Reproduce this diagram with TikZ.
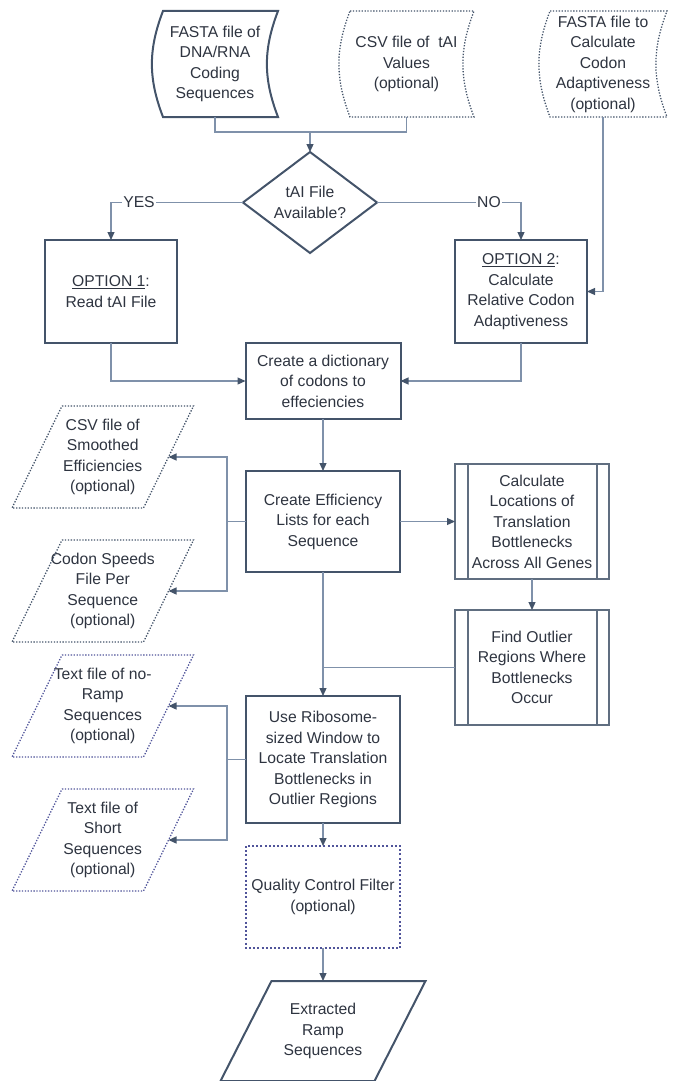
\documentclass[tikz,border=0pt]{standalone}
\usepackage{fontspec}
\setmainfont{Liberation Sans}
\usetikzlibrary{arrows.meta,calc,shapes.geometric}
\definecolor{boxc}{HTML}{44546A}
\definecolor{linec}{HTML}{7F91AA}
\definecolor{textc}{HTML}{2E3440}
\definecolor{purc}{HTML}{50549A}
\begin{document}
\begin{tikzpicture}[x=1pt,y=-1pt,
  every node/.style={font=\fontsize{15.7}{20.5}\selectfont, text=textc, align=center, inner sep=0pt, outer sep=0pt},
  proc/.style={rectangle, draw=boxc, line width=2pt},
  subp/.style={rectangle, draw=boxc!85, line width=1.3pt},
  ghost/.style={rectangle, draw=none},
  thickline/.style={draw=boxc, line width=2pt},
  dotb/.style={draw=boxc, line width=1.3pt, dash pattern=on 1.3pt off 1.6pt},
  dotp/.style={draw=purc, line width=1.3pt, dash pattern=on 1.3pt off 1.6pt},
  conn/.style={draw=linec, line width=1.2pt},
  arr/.style={draw=linec, line width=1.2pt, -{Triangle[length=8pt,width=7pt,color=boxc]}},
  lbl/.style={fill=white, inner sep=1pt}]
\useasboundingbox (0,0) rectangle (674,1081);

% ---- stored data inputs ----
\node[ghost, minimum width=126pt, minimum height=106pt] (s1) at (215,64) {FASTA file of\\DNA/RNA\\Coding\\Sequences};
\draw[thickline] ($(s1.north west)+(11,0)$) -- (s1.north east) to[bend right=21] (s1.south east)
  -- ($(s1.south west)+(11,0)$) to[bend left=21] ($(s1.north west)+(11,0)$) -- cycle;

\node[ghost, minimum width=135pt, minimum height=106pt] (s2) at (406.5,64) {CSV file of \ tAI\\Values\\(optional)};
\draw[dotb] ($(s2.north west)+(11,0)$) -- (s2.north east) to[bend right=21] (s2.south east)
  -- ($(s2.south west)+(11,0)$) to[bend left=21] ($(s2.north west)+(11,0)$) -- cycle;

\node[ghost, minimum width=128pt, minimum height=106pt] (s3) at (603,64) {FASTA file to\\Calculate\\Codon\\Adaptiveness\\(optional)};
\draw[dotb] ($(s3.north west)+(11,0)$) -- (s3.north east) to[bend right=21] (s3.south east)
  -- ($(s3.south west)+(11,0)$) to[bend left=21] ($(s3.north west)+(11,0)$) -- cycle;

% ---- decision ----
\node[diamond, draw=boxc, line width=2pt, aspect=1.33, minimum width=134pt, minimum height=101pt] (dia) at (310,202.5) {tAI File\\Available?};

% ---- option boxes ----
\node[proc, minimum width=132pt, minimum height=103pt] (o1) at (111,291.5) {\underline{OPTION 1}:\\Read tAI File};
\node[proc, minimum width=132pt, minimum height=103pt] (o2) at (521,291.5) {\underline{OPTION 2}:\\Calculate\\Relative Codon\\Adaptiveness};

% ---- main column ----
\node[proc, minimum width=155pt, minimum height=76pt] (dict) at (323,381) {Create a dictionary\\of codons to\\effeciencies};
\node[proc, minimum width=154pt, minimum height=101pt] (effic) at (323,521.5) {Create Efficiency\\Lists for each\\Sequence};
\node[proc, minimum width=154pt, minimum height=127pt] (ribo) at (323,759.5) {Use Ribosome-\\sized Window to\\Locate Translation\\Bottlenecks in\\Outlier Regions};
\node[ghost, minimum width=154pt, minimum height=102pt] (qc) at (323,897) {Quality Control Filter\\(optional)};
\draw[draw=purc, line width=2pt, dash pattern=on 2pt off 2.2pt] (qc.north west) rectangle (qc.south east);

\node[ghost, minimum width=154pt, minimum height=100pt] (out) at (323,1031) {Extracted\\Ramp\\Sequences};
\draw[thickline] ($(out.north west)+(25.5,0)$) -- ($(out.north east)+(25.5,0)$)
  -- ($(out.south east)+(-25.5,0)$) -- ($(out.south west)+(-25.5,0)$) -- cycle;

% ---- predefined process boxes ----
\node[subp, minimum width=154pt, minimum height=115pt] (sub1) at (532,521.5) {Calculate\\Locations of\\Translation\\Bottlenecks\\Across All Genes};
\draw[draw=boxc!85, line width=1.3pt] ($(sub1.north west)+(13,0)$) -- ($(sub1.south west)+(13,0)$)
  ($(sub1.north east)+(-12,0)$) -- ($(sub1.south east)+(-12,0)$);
\node[subp, minimum width=154pt, minimum height=115pt] (sub2) at (532,667.5) {Find Outlier\\Regions Where\\Bottlenecks\\Occur};
\draw[draw=boxc!85, line width=1.3pt] ($(sub2.north west)+(13,0)$) -- ($(sub2.south west)+(13,0)$)
  ($(sub2.north east)+(-12,0)$) -- ($(sub2.south east)+(-12,0)$);

% ---- optional outputs (parallelograms) ----
\node[ghost, minimum width=131.5pt, minimum height=102pt] (p1) at (102.75,457) {CSV file of\\Smoothed\\Efficiencies\\(optional)};
\draw[dotb] ($(p1.north west)+(25,0)$) -- ($(p1.north east)+(25,0)$) -- ($(p1.south east)+(-25,0)$) -- ($(p1.south west)+(-25,0)$) -- cycle;
\node[ghost, minimum width=131.5pt, minimum height=102pt] (p2) at (102.75,591) {Codon Speeds\\File Per\\Sequence\\(optional)};
\draw[dotb] ($(p2.north west)+(25,0)$) -- ($(p2.north east)+(25,0)$) -- ($(p2.south east)+(-25,0)$) -- ($(p2.south west)+(-25,0)$) -- cycle;
\node[ghost, minimum width=131.5pt, minimum height=102pt] (p3) at (102.75,706) {Text file of no-\\Ramp\\Sequences\\(optional)};
\draw[dotp] ($(p3.north west)+(25,0)$) -- ($(p3.north east)+(25,0)$) -- ($(p3.south east)+(-25,0)$) -- ($(p3.south west)+(-25,0)$) -- cycle;
\node[ghost, minimum width=131.5pt, minimum height=102pt] (p4) at (102.75,840) {Text file of\\Short\\Sequences\\(optional)};
\draw[dotp] ($(p4.north west)+(25,0)$) -- ($(p4.north east)+(25,0)$) -- ($(p4.south east)+(-25,0)$) -- ($(p4.south west)+(-25,0)$) -- cycle;

% ---- junctions ----
\coordinate (j1) at (310,132);
\coordinate (jl1) at (227,521.5);
\coordinate (jl2) at (227,759.5);

% ---- connectors ----
\draw[conn] (s1.south) |- (j1) -| (s2.south);
\draw[arr] (j1) -- (dia.north);
\draw[arr] (dia.west) -| (o1.north);
\draw[arr] (dia.east) -| (o2.north);
\node[lbl] (yes) at (139,202.5) {YES};
\node[lbl] (no) at (489,202.5) {NO};
\draw[arr] (s3.south) |- (o2.east);
\draw[arr] (o1.south) |- (dict.west);
\draw[arr] (o2.south) |- (dict.east);
\draw[arr] (dict.south) -- (effic.north);
\draw[arr] (effic.east) -- (sub1.west);
\draw[arr] (sub1.south) -- (sub2.north);
\draw[conn] (effic.west) -- (jl1);
\draw[arr] (jl1) |- (p1.east);
\draw[arr] (jl1) |- (p2.east);
\draw[arr] (effic.south) -- (ribo.north);
\draw[conn] (sub2.west) -- (sub2.west -| effic.south);
\draw[conn] (ribo.west) -- (jl2);
\draw[arr] (jl2) |- (p3.east);
\draw[arr] (jl2) |- (p4.east);
\draw[arr] (ribo.south) -- (qc.north);
\draw[arr] (qc.south) -- (out.north);
\end{tikzpicture}
\end{document}
